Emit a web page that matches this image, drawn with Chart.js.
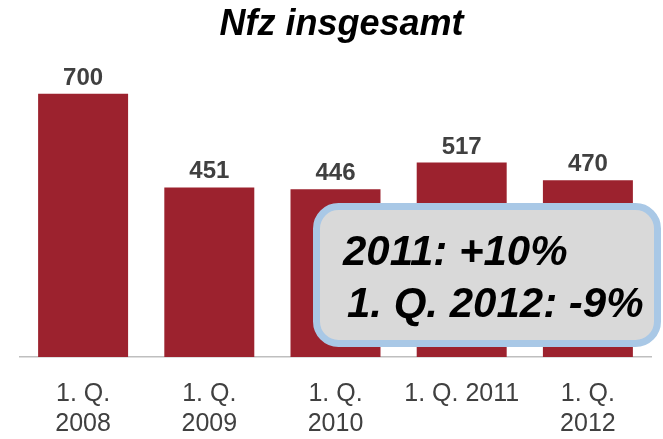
<!DOCTYPE html>
<html>
<head>
<meta charset="utf-8">
<script src="https://cdn.jsdelivr.net/npm/chart.js@4/dist/chart.umd.min.js"></script>
<style>
html,body{margin:0;padding:0;background:#fff;}
#wrap{width:663px;height:439px;position:relative;}
</style>
</head>
<body>
<div id="wrap"><canvas id="c" width="663" height="439"></canvas></div>
<script>
const titleText = "Nfz insgesamt";
const categories = [["1. Q.","2008"],["1. Q.","2009"],["1. Q.","2010"],"1. Q. 2011",["1. Q.","2012"]];
const values = [700, 451, 446, 517, 470];
const boxLines = ["2011: +10%", "1. Q. 2012: -9%"];

const FONT = "'Liberation Sans', Arial, sans-serif";
const BAR = "#9C222E";

const valueLabels = {
  id: 'valueLabels',
  afterDatasetsDraw(chart) {
    const ctx = chart.ctx;
    const meta = chart.getDatasetMeta(0);
    ctx.save();
    ctx.font = "bold 24px " + FONT;
    ctx.fillStyle = "#404040";
    ctx.textAlign = "center";
    ctx.textBaseline = "alphabetic";
    meta.data.forEach((bar, i) => {
      ctx.fillText(String(values[i]), bar.x, bar.y - 9);
    });
    ctx.restore();
  }
};

const noteBox = {
  id: 'noteBox',
  afterDraw(chart) {
    const ctx = chart.ctx;
    const ca = chart.chartArea;
    const x0 = ca.left + 296.5, y0 = 206.5, x1 = 657.5, y1 = 343.5, r = 22;
    ctx.save();
    ctx.beginPath();
    ctx.moveTo(x0 + r, y0);
    ctx.lineTo(x1 - r, y0);
    ctx.arcTo(x1, y0, x1, y0 + r, r);
    ctx.lineTo(x1, y1 - r);
    ctx.arcTo(x1, y1, x1 - r, y1, r);
    ctx.lineTo(x0 + r, y1);
    ctx.arcTo(x0, y1, x0, y1 - r, r);
    ctx.lineTo(x0, y0 + r);
    ctx.arcTo(x0, y0, x0 + r, y0, r);
    ctx.closePath();
    ctx.fillStyle = "#D9D9D9";
    ctx.fill();
    ctx.lineWidth = 7;
    ctx.strokeStyle = "#A9C8E6";
    ctx.stroke();
    ctx.fillStyle = "#000";
    ctx.font = "italic bold 42px " + FONT;
    ctx.textAlign = "left";
    ctx.textBaseline = "alphabetic";
    ctx.fillText(boxLines[0], 343, 265);
    ctx.fillText(boxLines[1], 347, 317);
    ctx.restore();
  }
};

new Chart(document.getElementById('c'), {
  type: 'bar',
  data: {
    labels: categories,
    datasets: [{
      data: values,
      backgroundColor: BAR,
      borderWidth: 0,
      categoryPercentage: 1,
      barPercentage: 0.713
    }]
  },
  options: {
    responsive: false,
    animation: false,
    layout: { padding: { left: 20, right: 0, top: 0, bottom: 0 } },
    plugins: {
      legend: { display: false },
      tooltip: { enabled: false },
      title: {
        display: true,
        text: titleText,
        color: "#000",
        font: { family: FONT, size: 36, weight: 'bold', style: 'italic', lineHeight: 1.2 },
        padding: { top: 3, bottom: 10 }
      }
    },
    scales: {
      x: {
        grid: { display: false, drawTicks: false },
        border: { display: true, color: "#BFBFBF", width: 1.5 },
        ticks: {
          color: "#404040",
          font: { family: FONT, size: 25, lineHeight: 1.2 },
          padding: 22,
          maxRotation: 0,
          autoSkip: false
        },
        afterFit(scale) { scale.height = 82; }
      },
      y: {
        display: true,
        position: 'right',
        min: 0,
        max: 800,
        grid: { display: false, drawTicks: false },
        border: { display: false },
        ticks: { display: false },
        afterFit(scale) { scale.width = 12; }
      }
    }
  },
  plugins: [valueLabels, noteBox]
});
</script>
</body>
</html>
